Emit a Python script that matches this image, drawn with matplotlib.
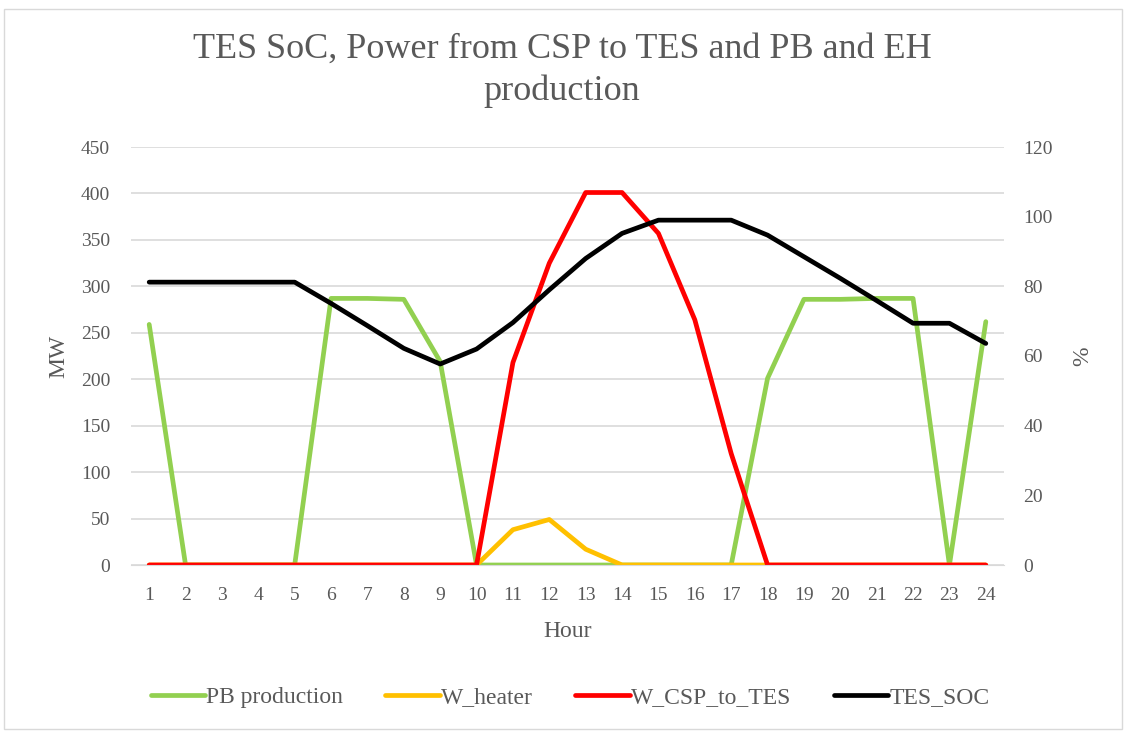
import matplotlib
matplotlib.use("Agg")
import matplotlib.pyplot as plt
from matplotlib.patches import Rectangle

plt.rcParams["font.family"] = ["Liberation Serif", "DejaVu Serif"]

hours = list(range(1, 25))
pb_production = [259, 0, 0, 0, 0, 287, 287, 286, 219, 0, 0, 0,
                 0, 0, 0, 0, 0, 201, 286, 286, 287, 287, 0, 262]
w_heater = [0, 0, 0, 0, 0, 0, 0, 0, 0, 0, 38, 49,
            17, 0, 0, 0, 0, 0, 0, 0, 0, 0, 0, 0]
w_csp_to_tes = [0, 0, 0, 0, 0, 0, 0, 0, 0, 0, 218, 325,
                401, 401, 357, 264, 120, 0, 0, 0, 0, 0, 0, 0]
tes_soc = [81.2, 81.2, 81.2, 81.2, 81.2, 75.1, 68.7, 62.2, 57.7, 62.0, 69.6, 79.0,
           88.0, 95.2, 99.0, 99.0, 99.0, 94.7, 88.5, 82.3, 75.9, 69.4, 69.4, 63.6]

GRAY = "#595959"
LW = 3.4
fig = plt.figure(figsize=(11.24, 7.31), dpi=100)
fig.patches.append(Rectangle((0.004, 0.003), 0.994, 0.985, transform=fig.transFigure,
                             fill=False, edgecolor="#D9D9D9", lw=1))

ax = fig.add_axes([131/1124, 1-565/731, (1004-131)/1124, (565-147)/731])
ax2 = ax.twinx()

ax.plot(hours, pb_production, color="#92D050", lw=LW, label="PB production", solid_capstyle="round")
ax.plot(hours, w_heater, color="#FFC000", lw=LW, label="W_heater", solid_capstyle="round")
ax.plot(hours, w_csp_to_tes, color="#FF0000", lw=LW, label="W_CSP_to_TES", solid_capstyle="round")
ax2.plot(hours, tes_soc, color="#000000", lw=LW, label="TES_SOC", solid_capstyle="round")
ax.set_zorder(0); ax2.set_zorder(1); ax2.patch.set_visible(False)

ax.set_xlim(0.5, 24.5)
ax.set_ylim(0, 450)
ax2.set_ylim(0, 120)
ax.set_yticks(range(0, 451, 50))
ax2.set_yticks(range(0, 121, 20))
ax.set_xticks(hours)
ax.grid(axis="y", color="#D9D9D9", lw=1.2)
ax.set_axisbelow(True)

for a in (ax, ax2):
    for s in a.spines.values():
        s.set_visible(False)
    a.tick_params(length=0, labelsize=14, labelcolor=GRAY)
ax.spines["bottom"].set_visible(True)
ax.spines["bottom"].set_color("#D9D9D9")
ax.tick_params(axis="x", pad=16)
ax.tick_params(axis="y", pad=15)
ax2.tick_params(axis="y", pad=14)

ax.set_xlabel("Hour", fontsize=17, color=GRAY, labelpad=12)
ax.set_ylabel("MW", fontsize=17, color=GRAY, labelpad=8)
ax2.set_ylabel("%", fontsize=17, color=GRAY, labelpad=14)

fig.text(0.5, 1-70/731, "TES SoC, Power from CSP to TES and PB and EH\nproduction",
         ha="center", va="center", fontsize=26, color=GRAY, linespacing=1.35)

h1, l1 = ax.get_legend_handles_labels()
h2, l2 = ax2.get_legend_handles_labels()
fig.legend(h1 + h2, l1 + l2, loc="center", bbox_to_anchor=(0.507, 1-697/731), ncol=4,
           frameon=False, fontsize=17, labelcolor=GRAY, handlelength=2.3,
           handletextpad=0.05, columnspacing=1.8)

fig.savefig("out.png", dpi=100, facecolor="white")
